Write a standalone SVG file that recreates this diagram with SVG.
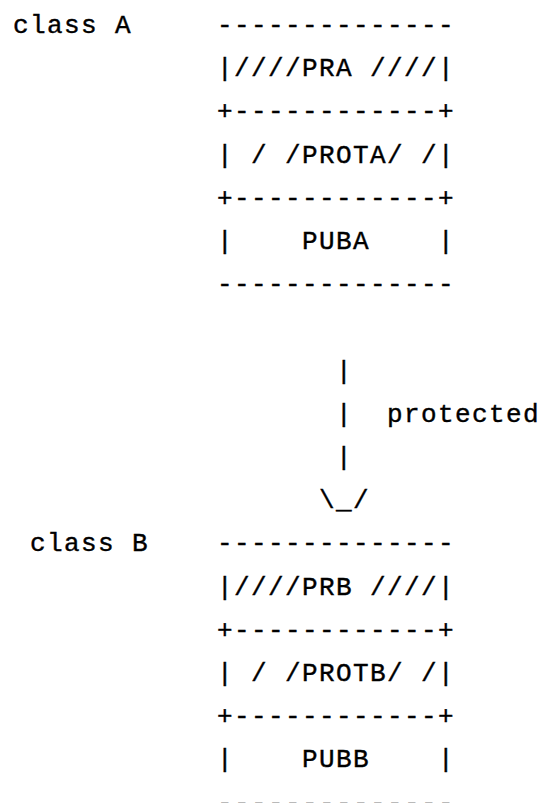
<svg xmlns="http://www.w3.org/2000/svg" width="546" height="803" viewBox="0 0 546 803">
<style>
text{font-family:"Liberation Mono","DejaVu Sans Mono",monospace;font-size:26px;letter-spacing:1.4px;fill:#000;stroke:#000;stroke-width:0.4px;white-space:pre}
</style>
<rect width="546" height="803" fill="#fff"/>
<g id="classA">
<text x="13" y="33">class A</text>
<text x="217" y="33">--------------</text>
<text x="217" y="76.2" xml:space="preserve">|////PRA ////|</text>
<text x="217" y="119.4">+------------+</text>
<text x="217" y="162.6" xml:space="preserve">| / /PROTA/ /|</text>
<text x="217" y="205.8">+------------+</text>
<text x="217" y="249" xml:space="preserve">|    PUBA    |</text>
<text x="217" y="292.2">--------------</text>
</g>
<g id="connectors">
<text x="336" y="378.6">|</text>
<text x="336" y="421.8">|</text>
<text x="387" y="421.8">protected</text>
<text x="336" y="465">|</text>
<text x="319" y="508.2">\_/</text>
</g>
<g id="classB">
<text x="30" y="551.4">class B</text>
<text x="217" y="551.4">--------------</text>
<text x="217" y="594.6" xml:space="preserve">|////PRB ////|</text>
<text x="217" y="637.8">+------------+</text>
<text x="217" y="681" xml:space="preserve">| / /PROTB/ /|</text>
<text x="217" y="724.2">+------------+</text>
<text x="217" y="767.4" xml:space="preserve">|    PUBB    |</text>
<text x="217" y="810.6">--------------</text>
</g>
</svg>
